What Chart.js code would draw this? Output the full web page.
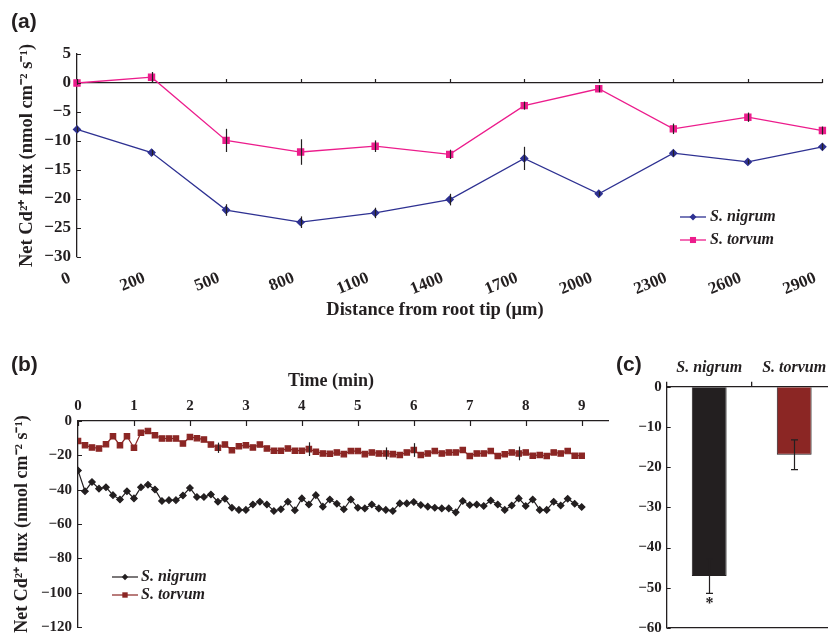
<!DOCTYPE html>
<html>
<head>
<meta charset="utf-8">
<title>Net Cd2+ flux</title>
<script src="https://cdn.jsdelivr.net/npm/chart.js@4.4.1/dist/chart.umd.min.js"></script>
<style>
  body { margin: 0; width: 828px; height: 642px; overflow: hidden; background: #fff; position: relative; }
  canvas { position: absolute; }
  .tag { position: absolute; font: bold 21px "Liberation Sans", Arial, sans-serif; color: #231f20; }
</style>
</head>
<body>
<canvas id="chartA" style="left:0;top:0" width="828" height="330"></canvas>
<canvas id="chartB" style="left:0;top:330px" width="620" height="312"></canvas>
<canvas id="chartC" style="left:600px;top:330px" width="240" height="312"></canvas>
<div class="tag" style="left:11px;top:9px">(a)</div>
<div class="tag" style="left:11px;top:352px">(b)</div>
<div class="tag" style="left:616px;top:352px">(c)</div>
<script>
// (a) flux along the root
const distLabels = ['0', '200', '500', '800', '1100', '1400', '1700', '2000', '2300', '2600', '2900'];
const nigrumDist = [-8.0, -12.0, -21.9, -24.0, -22.4, -20.1, -13.0, -19.1, -12.1, -13.6, -11.0];
const nigrumDistErr = [0.5, 0.5, 1.0, 1.0, 0.9, 1.0, 2.0, 0.4, 0.6, 0.4, 0.6];
const torvumDist = [0, 1.0, -9.9, -11.9, -10.9, -12.3, -3.9, -1.0, -7.9, -5.9, -8.2];
const torvumDistErr = [0.3, 0.9, 2.0, 2.2, 1.0, 0.8, 0.7, 0.6, 0.9, 0.8, 0.7];

// (b) flux over time
const timeMin = [0, 0.125, 0.25, 0.375, 0.5, 0.625, 0.75, 0.875, 1, 1.125, 1.25, 1.375, 1.5, 1.625, 1.75, 1.875,
  2, 2.125, 2.25, 2.375, 2.5, 2.625, 2.75, 2.875, 3, 3.125, 3.25, 3.375, 3.5, 3.625, 3.75, 3.875,
  4, 4.125, 4.25, 4.375, 4.5, 4.625, 4.75, 4.875, 5, 5.125, 5.25, 5.375, 5.5, 5.625, 5.75, 5.875,
  6, 6.125, 6.25, 6.375, 6.5, 6.625, 6.75, 6.875, 7, 7.125, 7.25, 7.375, 7.5, 7.625, 7.75, 7.875,
  8, 8.125, 8.25, 8.375, 8.5, 8.625, 8.75, 8.875, 9];
const nigrumTime = [-28.8, -40.9, -35.5, -39.4, -38.6, -43.2, -45.7, -40.9, -45.1, -38.6, -37.1, -39.9, -46.6, -46.1, -46.1, -43.4,
  -39.0, -44.3, -44.3, -42.8, -47.0, -45.3, -50.5, -51.8, -51.8, -48.6, -47.0, -48.6, -52.4, -51.4, -47.0, -52.0,
  -45.1, -48.6, -43.2, -49.9, -45.7, -48.2, -51.4, -45.7, -50.5, -50.9, -48.6, -50.9, -51.8, -52.4, -48.0, -48.0,
  -47.2, -48.9, -49.9, -50.5, -50.9, -50.9, -53.2, -46.6, -48.9, -48.6, -49.5, -46.3, -48.6, -51.8, -49.2, -45.1,
  -49.5, -45.7, -51.8, -51.8, -47.0, -49.2, -45.3, -48.2, -50.1];
const torvumTime = [-11.6, -14.1, -15.4, -16.0, -13.5, -8.9, -14.1, -8.9, -15.6, -6.8, -5.8, -8.3, -10.2, -10.2, -10.2, -13.1,
  -9.3, -10.0, -10.8, -13.7, -15.6, -13.7, -17.0, -14.7, -14.1, -15.4, -13.7, -16.0, -17.3, -17.3, -16.0, -17.3,
  -17.3, -16.4, -17.9, -18.9, -19.1, -18.3, -19.3, -17.5, -17.5, -19.3, -18.3, -18.9, -18.9, -19.3, -19.8, -18.3,
  -16.9, -19.8, -18.9, -17.5, -18.9, -18.3, -18.3, -16.9, -20.4, -18.9, -18.9, -17.5, -20.4, -19.4, -18.3, -18.9,
  -18.3, -20.2, -19.8, -20.4, -18.3, -18.9, -17.5, -20.2, -20.2];
const torvumTimeErrIdx = [20, 33, 44, 48, 63];
const torvumTimeErrVal = [3.0, 4.0, 3.5, 4.0, 4.0];

// (c) mean flux
const species = ['S. nigrum', 'S. torvum'];
const meanFlux = [-47.1, -16.9];
const meanFluxErr = [4.3, 3.7];
const meanFluxMarks = ['*', ''];

const ink = '#231f20';
const blue = '#2e3192';
const pink = '#ec1c8c';
const darkRed = '#8b2624';
const serif = '"Liberation Serif", "Times New Roman", serif';
const yTitle = 'Net Cd\u00b2\u207a flux (nmol cm\u207b\u00b2 s\u207b\u00b9)';

Chart.defaults.font.family = serif;
Chart.defaults.color = ink;

const minus = v => (v < 0 ? '\u2212' + Math.abs(v) : String(v));

const errorBars = {
  id: 'errorBars',
  afterDatasetsDraw(chart) {
    const ctx = chart.ctx;
    const ys = chart.scales.y;
    ctx.save();
    ctx.strokeStyle = ink;
    ctx.fillStyle = ink;
    ctx.lineWidth = 1.2;
    chart.data.datasets.forEach((ds, i) => {
      if (!ds.errors) return;
      const meta = chart.getDatasetMeta(i);
      meta.data.forEach((el, j) => {
        const e = ds.errors[j];
        if (!e) return;
        const d = ds.data[j];
        const v = typeof d === 'object' ? d.y : d;
        const top = ys.getPixelForValue(v + e);
        const bot = ys.getPixelForValue(v - e);
        const x = Math.round(el.x) + 0.5;
        ctx.beginPath();
        ctx.moveTo(x, top);
        ctx.lineTo(x, bot);
        if (ds.errCap) {
          ctx.moveTo(x - ds.errCap, top);
          ctx.lineTo(x + ds.errCap, top);
          ctx.moveTo(x - ds.errCap, bot);
          ctx.lineTo(x + ds.errCap, bot);
        }
        ctx.stroke();
        if (ds.marks && ds.marks[j]) {
          ctx.font = 'bold 16px ' + serif;
          ctx.textAlign = 'center';
          ctx.textBaseline = 'top';
          ctx.fillText(ds.marks[j], x, bot + 2);
        }
      });
    });
    ctx.restore();
  }
};

const tickMarks = {
  id: 'tickMarks',
  afterDraw(chart, args, o) {
    const ctx = chart.ctx;
    const a = chart.chartArea;
    ctx.save();
    ctx.strokeStyle = ink;
    ctx.lineWidth = 1.2;
    ctx.beginPath();
    if (o.yLen) {
      const s = chart.scales.y;
      s.ticks.forEach((t, i) => {
        const p = Math.round(s.getPixelForTick(i)) + 0.5;
        ctx.moveTo(a.left, p);
        ctx.lineTo(a.left + o.yLen, p);
      });
    }
    if (o.xLen) {
      const s = chart.scales.x;
      const y0 = o.xAt === 'top' ? a.top : chart.scales.y.getPixelForValue(o.xAt);
      s.ticks.forEach((t, i) => {
        const p = Math.round(s.getPixelForTick(i)) + 0.5;
        ctx.moveTo(p, y0);
        ctx.lineTo(p, y0 + o.xLen);
      });
    }
    ctx.stroke();
    ctx.restore();
  }
};

const lineLegend = {
  id: 'lineLegend',
  afterDraw(chart, args, o) {
    if (!o.display) return;
    const ctx = chart.ctx;
    ctx.save();
    chart.data.datasets.forEach((ds, i) => {
      const y = o.y + i * o.gap;
      const cx = o.x + o.lineLen / 2;
      const r = ds.pointRadius;
      ctx.strokeStyle = ds.borderColor;
      ctx.lineWidth = ds.borderWidth;
      ctx.beginPath();
      ctx.moveTo(o.x, y);
      ctx.lineTo(o.x + o.lineLen, y);
      ctx.stroke();
      ctx.fillStyle = ds.pointBackgroundColor;
      ctx.beginPath();
      if (ds.pointStyle === 'rect') {
        const h = r * Math.SQRT1_2;
        ctx.rect(cx - h, y - h, 2 * h, 2 * h);
      } else {
        ctx.moveTo(cx, y - r);
        ctx.lineTo(cx + r, y);
        ctx.lineTo(cx, y + r);
        ctx.lineTo(cx - r, y);
        ctx.closePath();
      }
      ctx.fill();
      ctx.fillStyle = ink;
      ctx.font = o.font;
      ctx.textAlign = 'left';
      ctx.textBaseline = 'middle';
      ctx.fillText(ds.label, o.x + o.lineLen + o.pad, y);
    });
    ctx.restore();
  }
};

const freeText = {
  id: 'freeText',
  afterDraw(chart, args, o) {
    const ctx = chart.ctx;
    ctx.save();
    ctx.fillStyle = ink;
    ctx.textAlign = 'center';
    ctx.textBaseline = 'middle';
    (o.items || []).forEach(t => {
      ctx.font = t.font;
      ctx.fillText(t.text, t.x, t.y);
    });
    ctx.restore();
  }
};

const tickFontA = { size: 17, weight: 'bold' };
const tickFont = { size: 15, weight: 'bold' };

new Chart(document.getElementById('chartA'), {
  type: 'line',
  data: {
    labels: distLabels,
    datasets: [
      { label: 'S. nigrum', data: nigrumDist, errors: nigrumDistErr, borderColor: blue, backgroundColor: blue,
        pointBackgroundColor: blue, pointBorderColor: blue, pointStyle: 'rectRot', pointRadius: 3.5, borderWidth: 1.3, clip: false },
      { label: 'S. torvum', data: torvumDist, errors: torvumDistErr, borderColor: pink, backgroundColor: pink,
        pointBackgroundColor: pink, pointBorderColor: pink, pointStyle: 'rect', pointRadius: 4.3, borderWidth: 1.3, clip: false }
    ]
  },
  options: {
    responsive: false,
    animation: false,
    layout: { padding: { left: 16, top: 54, right: 1, bottom: 0 } },
    plugins: {
      legend: { display: false },
      tooltip: { enabled: false },
      tickMarks: { yLen: 4, xLen: -4, xAt: 0 },
      lineLegend: { display: true, x: 680, y: 217, gap: 23, lineLen: 26, pad: 4, font: 'italic bold 16px ' + serif },
      freeText: { items: [{ text: 'Distance from root tip (\u03bcm)', x: 435, y: 310, font: 'bold 18.5px ' + serif }] }
    },
    scales: {
      x: {
        grid: { display: false, drawTicks: false },
        border: { display: false },
        ticks: { font: tickFontA, minRotation: 22, maxRotation: 22, padding: 11, labelOffset: -7, autoSkip: false },
        afterFit: s => { s.height = 73; s.paddingLeft = 0; s.paddingRight = 0; }
      },
      y: {
        min: -30, max: 5,
        ticks: { stepSize: 5, font: tickFontA, padding: 6, callback: minus },
        grid: { drawTicks: false, color: c => (c.tick && c.tick.value === 0 ? ink : 'rgba(0,0,0,0)'), lineWidth: 1.3 },
        border: { color: ink, width: 1.3 },
        title: { display: true, text: yTitle, font: { size: 18.5, weight: 'bold' }, padding: 0 },
        afterFit: s => { s.width = 61; }
      }
    }
  },
  plugins: [errorBars, tickMarks, lineLegend, freeText]
});

const torvumTimeErr = timeMin.map(() => 0);
torvumTimeErrIdx.forEach((k, n) => { torvumTimeErr[k] = torvumTimeErrVal[n]; });

new Chart(document.getElementById('chartB'), {
  type: 'line',
  data: {
    datasets: [
      { label: 'S. nigrum', data: timeMin.map((t, i) => ({ x: t, y: nigrumTime[i] })), borderColor: ink, backgroundColor: ink,
        pointBackgroundColor: ink, pointBorderColor: ink, pointStyle: 'rectRot', pointRadius: 3.2, borderWidth: 1.2 },
      { label: 'S. torvum', data: timeMin.map((t, i) => ({ x: t, y: torvumTime[i] })), errors: torvumTimeErr, borderColor: darkRed,
        backgroundColor: darkRed, pointBackgroundColor: darkRed, pointBorderColor: darkRed, pointStyle: 'rect', pointRadius: 3.8, borderWidth: 1.2 }
    ]
  },
  options: {
    responsive: false,
    animation: false,
    layout: { padding: { left: 12, top: 0, right: 12, bottom: 13 } },
    plugins: {
      legend: { display: false },
      tooltip: { enabled: false },
      tickMarks: { yLen: 4, xLen: 5, xAt: 'top' },
      lineLegend: { display: true, x: 112, y: 247, gap: 18, lineLen: 26, pad: 3, font: 'italic bold 16px ' + serif },
      freeText: { items: [{ text: 'Time (min)', x: 331, y: 51, font: 'bold 18px ' + serif }] }
    },
    scales: {
      x: {
        type: 'linear', position: 'top', min: 0, max: 9.47,
        ticks: { stepSize: 1, includeBounds: false, font: tickFont, padding: 6 },
        grid: { display: false, drawTicks: false },
        border: { color: ink, width: 1.3 },
        afterFit: s => { s.height = 91; s.paddingLeft = 0; s.paddingRight = 0; }
      },
      y: {
        min: -120, max: 0,
        ticks: { stepSize: 20, font: tickFont, padding: 6, callback: minus },
        grid: { display: false, drawTicks: false },
        border: { color: ink, width: 1.3 },
        title: { display: true, text: yTitle, font: { size: 18, weight: 'bold' }, padding: 0 },
        afterFit: s => { s.width = 66; }
      }
    }
  },
  plugins: [errorBars, tickMarks, lineLegend, freeText]
});

new Chart(document.getElementById('chartC'), {
  type: 'bar',
  data: {
    labels: species,
    datasets: [
      { data: meanFlux, errors: meanFluxErr, marks: meanFluxMarks, errCap: 3.5, backgroundColor: [ink, darkRed],
        borderColor: ink, borderWidth: 1, barPercentage: 0.41, categoryPercentage: 1 }
    ]
  },
  options: {
    responsive: false,
    animation: false,
    layout: { padding: { left: 6, top: 0, right: 3.3, bottom: 7 } },
    plugins: {
      legend: { display: false },
      tooltip: { enabled: false },
      tickMarks: { yLen: 4 }
    },
    scales: {
      x: {
        position: 'top',
        ticks: { font: { size: 16, weight: 'bold', style: 'italic' }, padding: 4 },
        grid: { drawOnChartArea: false, tickLength: 5, color: ink, lineWidth: 1.3 },
        border: { color: ink, width: 1.3 },
        afterFit: s => { s.height = 56.7; s.paddingLeft = 0; s.paddingRight = 0; }
      },
      y: {
        min: -60, max: 0,
        ticks: { stepSize: 10, font: tickFont, padding: 5, callback: minus },
        grid: { drawTicks: false, color: c => (c.tick && c.tick.value === -60 ? ink : 'rgba(0,0,0,0)'), lineWidth: 1.3 },
        border: { color: ink, width: 1.3 },
        afterFit: s => { s.width = 60.7; }
      }
    }
  },
  plugins: [errorBars, tickMarks]
});
</script>
</body>
</html>
